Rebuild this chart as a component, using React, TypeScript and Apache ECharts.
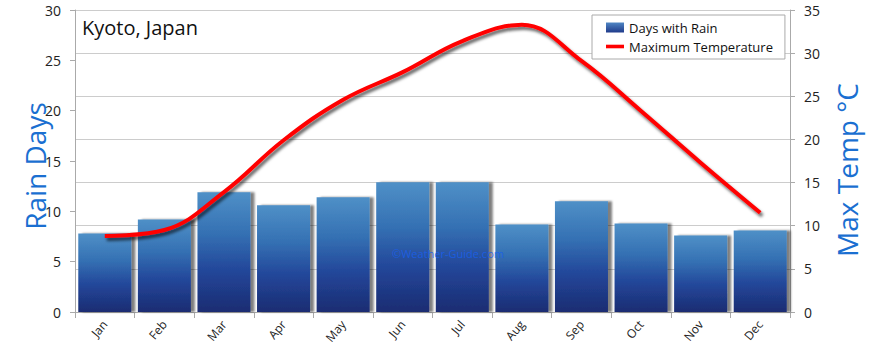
import React, { useEffect, useRef } from "react";
import * as echarts from "echarts";

const months = ["Jan", "Feb", "Mar", "Apr", "May", "Jun", "Jul", "Aug", "Sep", "Oct", "Nov", "Dec"];
const rainDays = [7.8, 9.2, 11.9, 10.6, 11.4, 12.9, 12.9, 8.7, 11.0, 8.8, 7.6, 8.1];
const maxTemp = [8.8, 9.5, 13.9, 19.9, 24.6, 27.8, 31.4, 33.3, 29.1, 23.3, 17.3, 11.5];
const leftTicks = { min: 0, max: 30, interval: 5 };
const rightTicks = { min: 0, max: 35, interval: 5 };

const FONT = "Open Sans";

export default function App() {
  const ref = useRef<HTMLDivElement>(null);
  useEffect(() => {
    if (!ref.current) return;
    const chart = echarts.init(ref.current, null, { renderer: "svg" });
    const barGradient = new echarts.graphic.LinearGradient(0, 0, 0, 1, [
      { offset: 0, color: "#4f90c7" },
      { offset: 0.35, color: "#3470b3" },
      { offset: 0.65, color: "#23479a" },
      { offset: 1, color: "#1b2c72" },
    ]);
    const legendGradient = new echarts.graphic.LinearGradient(0, 0, 0, 1, [
      { offset: 0, color: "#4f86c4" },
      { offset: 1, color: "#1f3a8a" },
    ]);
    chart.setOption({
      animation: false,
      backgroundColor: "#ffffff",
      textStyle: { fontFamily: FONT },
      grid: { left: 75, right: 80, top: 10, bottom: 40, containLabel: false },
      legend: {
        orient: "vertical",
        left: 592,
        top: 15,
        padding: [6, 12, 6, 14],
        itemGap: 6,
        itemWidth: 18,
        itemHeight: 10,
        backgroundColor: "#ffffff",
        borderColor: "#aaaaaa",
        borderWidth: 1,
        textStyle: { fontFamily: FONT, fontSize: 13, color: "#111" },
        data: [
          { name: "Days with Rain", icon: "rect", itemStyle: { color: legendGradient } },
          {
            name: "Maximum Temperature",
            icon: "path://M0,0 L20,0 L20,4 L0,4 Z",
            itemStyle: { color: "#ff0000" },
            lineStyle: { opacity: 0 },
          },
        ],
      },
      xAxis: {
        type: "category",
        data: months,
        axisLine: { lineStyle: { color: "#aaaaaa" } },
        axisTick: { show: true, length: 6, lineStyle: { color: "#aaaaaa" } },
        axisLabel: { rotate: 50, fontSize: 12, color: "#222", fontFamily: FONT, margin: 10 },
      },
      yAxis: [
        {
          type: "value",
          ...leftTicks,
          position: "left",
          axisLine: { show: true, lineStyle: { color: "#aaaaaa" } },
          axisTick: { show: true, length: 5, lineStyle: { color: "#aaaaaa" } },
          splitLine: { show: false },
          axisLabel: { fontSize: 14, color: "#222", margin: 14, fontFamily: FONT },
        },
        {
          type: "value",
          ...rightTicks,
          position: "right",
          axisLine: { show: true, lineStyle: { color: "#aaaaaa" } },
          axisTick: { show: true, length: 5, lineStyle: { color: "#aaaaaa" } },
          splitLine: { show: true, lineStyle: { color: "#cccccc" } },
          axisLabel: { fontSize: 14, color: "#222", margin: 14, fontFamily: FONT },
        },
      ],
      graphic: {
        elements: [
          {
            type: "text",
            left: 82,
            top: 17,
            style: { text: "Kyoto, Japan", fontSize: 20, fill: "#111", fontFamily: FONT },
          },
          {
            type: "text",
            x: 35,
            y: 166,
            rotation: Math.PI / 2,
            style: {
              text: "Rain Days",
              fontSize: 28,
              fill: "#1a6fd1",
              fontFamily: FONT,
              align: "center",
              verticalAlign: "middle",
            },
          },
          {
            type: "text",
            x: 847,
            y: 170,
            rotation: Math.PI / 2,
            style: {
              text: "Max Temp °C",
              fontSize: 28,
              fill: "#1a6fd1",
              fontFamily: FONT,
              align: "center",
              verticalAlign: "middle",
            },
          },
          {
            type: "text",
            x: 448,
            y: 253,
            z: 100,
            zlevel: 2,
            style: {
              text: "©Weather-Guide.com",
              fontSize: 11,
              fill: "rgba(25,95,235,0.85)",
              fontFamily: FONT,
              align: "center",
              verticalAlign: "middle",
            },
          },
        ],
      },
      series: [
        {
          name: "Days with Rain",
          type: "bar",
          yAxisIndex: 0,
          data: rainDays,
          barCategoryGap: "11%",
          itemStyle: {
            color: barGradient,
            shadowColor: "rgba(0,0,0,0.5)",
            shadowOffsetX: 4,
            shadowOffsetY: 0,
            shadowBlur: 2,
          },
        },
        {
          name: "Maximum Temperature",
          type: "line",
          yAxisIndex: 1,
          data: maxTemp,
          smooth: 0.4,
          symbol: "none",
          z: 5,
          itemStyle: { color: "#ff0000" },
          lineStyle: {
            color: "#ff0000",
            width: 4,
            shadowColor: "rgba(0,0,0,0.6)",
            shadowBlur: 3,
            shadowOffsetX: 2,
            shadowOffsetY: 3,
          },
        },
      ],
    });
    return () => chart.dispose();
  }, []);
  return <div ref={ref} style={{ width: 870, height: 352, position: "absolute", left: 0, top: 0 }} />;
}
